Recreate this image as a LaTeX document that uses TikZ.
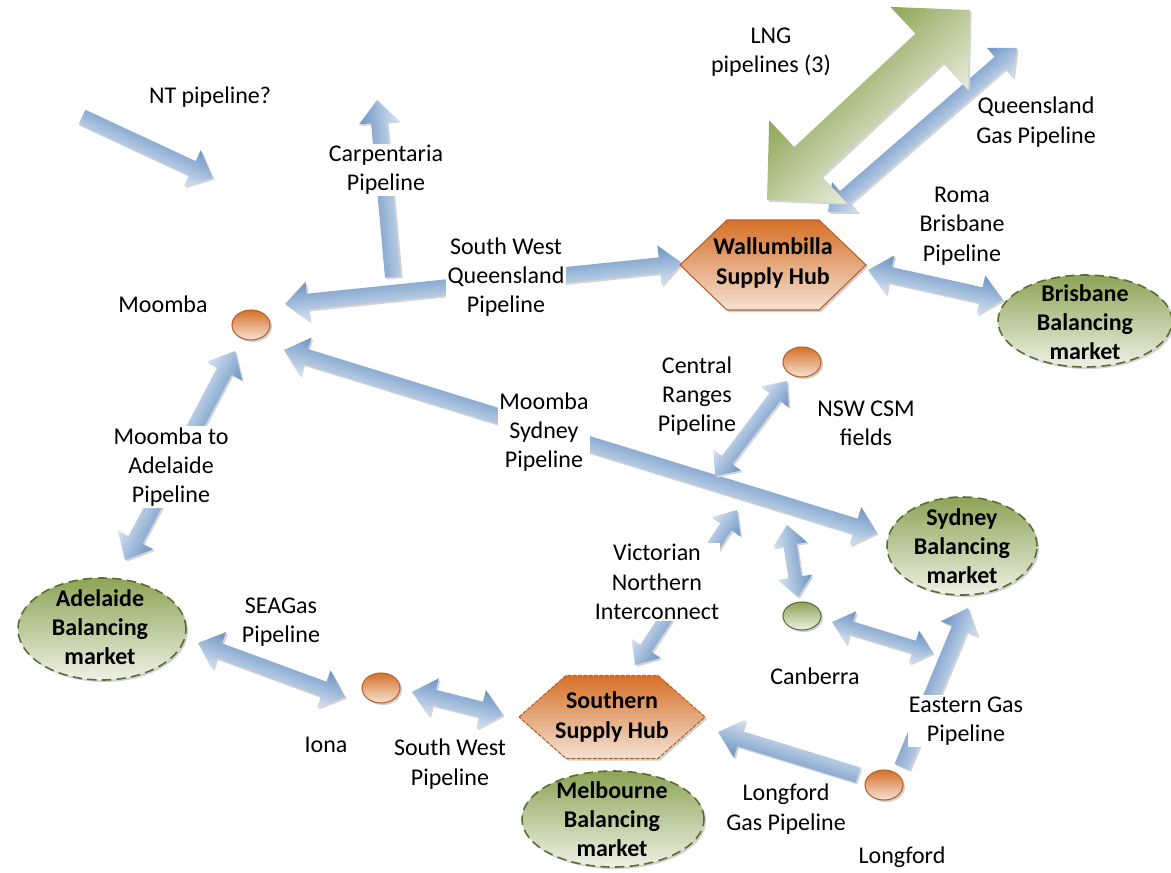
\documentclass[tikz,border=0pt]{standalone}
\usepackage{fontspec}
\setmainfont{Carlito}
\usetikzlibrary{arrows.meta,shapes.geometric,shadows,calc}
\definecolor{pipedark}{RGB}{108,148,196}
\definecolor{pipelight}{RGB}{214,227,241}
\definecolor{pipeshadow}{RGB}{212,212,212}
\definecolor{lngdark}{RGB}{140,166,86}
\definecolor{lnglight}{RGB}{233,237,220}
\definecolor{hubtop}{RGB}{214,112,40}
\definecolor{hubbot}{RGB}{244,226,212}
\definecolor{hubedge}{RGB}{185,95,40}
\definecolor{grtop}{RGB}{140,164,86}
\definecolor{grbot}{RGB}{238,241,229}
\definecolor{gredge}{RGB}{94,108,52}
% block arrow geometry (head length, half head width, half shaft width)
\newcommand\setnormal{\gdef\HL{17pt}\gdef\HW{15pt}\gdef\SW{6pt}}
\newcommand\setsmall{\gdef\HL{15pt}\gdef\HW{13pt}\gdef\SW{5pt}}
\newcommand\setbig{\gdef\HL{42pt}\gdef\HW{42.5pt}\gdef\SW{15pt}}
\setnormal
\newcommand\getvec[2]{%
  \path let \p1=($(#2)-(#1)$) in \pgfextra{%
    \pgfmathsetmacro\tmpang{atan2(\y1,\x1)}\global\let\Bang\tmpang
    \pgfmathsetmacro\tmplen{veclen(\x1,\y1)}\global\let\Blen\tmplen};}
\newcommand\dpoly{(0pt,0pt) -- (\HL,\HW) -- (\HL,\SW) -- (\Blen pt-\HL,\SW) -- (\Blen pt-\HL,\HW) -- (\Blen pt,0pt) -- (\Blen pt-\HL,-\HW) -- (\Blen pt-\HL,-\SW) -- (\HL,-\SW) -- (\HL,-\HW) -- cycle}
\newcommand\spoly{(0pt,\SW) -- (\Blen pt-\HL,\SW) -- (\Blen pt-\HL,\HW) -- (\Blen pt,0pt) -- (\Blen pt-\HL,-\HW) -- (\Blen pt-\HL,-\SW) -- (0pt,-\SW) -- cycle}
% \pipeline{style}{poly}{from}{to}
\newcommand\pipeline[4]{%
  \getvec{#3}{#4}%
  \begin{scope}[transform canvas={shift={(#3)}, xshift=1.3pt, yshift=-1.3pt, rotate=\Bang}]
    \fill[pipeshadow] #2;
  \end{scope}
  \begin{scope}[transform canvas={shift={(#3)}, rotate=\Bang}]
    \path[#1] #2;
  \end{scope}}
\begin{document}
\begin{tikzpicture}[x=0.75pt,y=-0.75pt,
  txt/.style={align=center, inner sep=1pt, font=\fontsize{18}{22}\selectfont},
  txtw/.style={txt, fill=white},
  btxt/.style={align=center, inner sep=1pt, font=\fontsize{18}{22}\selectfont\bfseries},
  pipe/.style={top color=pipedark, bottom color=pipelight},
  lng/.style={top color=lngdark, bottom color=lnglight},
  shad/.style={drop shadow={shadow xshift=1.5pt, shadow yshift=-1.5pt, fill=black, opacity=0.18}},
  dot/.style={ellipse, draw=hubedge, line width=0.8pt, top color=hubtop, bottom color=hubbot,
    minimum width=28.5pt, minimum height=22.5pt, inner sep=0pt, shad},
  gdot/.style={ellipse, draw=gredge, line width=0.8pt, top color=grtop, bottom color=grbot,
    minimum width=28.5pt, minimum height=21pt, inner sep=0pt, shad},
  market/.style={ellipse, draw=gredge, dash pattern=on 7pt off 4pt, line width=1.2pt,
    top color=grtop, bottom color=grbot, inner sep=0pt, shad},
  hub/.style={draw=hubedge, line width=0.8pt, top color=hubtop, bottom color=hubbot, shad}
]
\useasboundingbox (0,0) rectangle (1171,872);

% arrow end points
\coordinate (ntA) at (82,117);   \coordinate (ntB) at (213,178);
\coordinate (cpA) at (393,277);  \coordinate (cpB) at (377,100);
\coordinate (swqA) at (285,304); \coordinate (swqB) at (682,263);
\coordinate (mspA) at (284,350); \coordinate (mspB) at (877,533);
\coordinate (maA) at (235,351);  \coordinate (maB) at (125,560);
\coordinate (seaA) at (198,643); \coordinate (seaB) at (345,697);
\coordinate (swpA) at (412,692); \coordinate (swpB) at (503,715);
\coordinate (rbpA) at (868,270); \coordinate (rbpB) at (1003,300);
\coordinate (qgpA) at (828,212); \coordinate (qgpB) at (1017,48);
\coordinate (lngA) at (767,200); \coordinate (lngB) at (970,10);
\coordinate (crpA) at (787,381); \coordinate (crpB) at (715,476);
\coordinate (vniA) at (737,510); \coordinate (vniB) at (635,665);
\coordinate (cbvA) at (787,525); \coordinate (cbvB) at (798,597);
\coordinate (cbeA) at (832,622); \coordinate (cbeB) at (933,653);
\coordinate (egpA) at (902,767); \coordinate (egpB) at (968,608);
\coordinate (lgpA) at (858,775); \coordinate (lgpB) at (718,732);

% pipelines
\setnormal
\pipeline{pipe}{\spoly}{ntA}{ntB}
\pipeline{pipe}{\spoly}{cpA}{cpB}
\pipeline{pipe}{\dpoly}{swqA}{swqB}
\pipeline{pipe}{\dpoly}{mspA}{mspB}
\pipeline{pipe}{\dpoly}{maA}{maB}
\pipeline{pipe}{\dpoly}{seaA}{seaB}
\pipeline{pipe}{\dpoly}{swpA}{swpB}
\pipeline{pipe}{\dpoly}{rbpA}{rbpB}
\pipeline{pipe}{\dpoly}{qgpA}{qgpB}
\pipeline{pipe}{\spoly}{egpA}{egpB}
\pipeline{pipe}{\spoly}{lgpA}{lgpB}
\setsmall
\pipeline{pipe}{\dpoly}{crpA}{crpB}
\pipeline{pipe}{\dpoly}{vniA}{vniB}
\pipeline{pipe}{\dpoly}{cbvA}{cbvB}
\pipeline{pipe}{\dpoly}{cbeA}{cbeB}
\setbig
\pipeline{lng}{\dpoly}{lngA}{lngB}

% hubs
\coordinate (walC) at (773,265);
\path[hub] ($(walC)+(-93,0)$) -- ($(walC)+(-46,-45)$) -- ($(walC)+(46,-45)$) -- ($(walC)+(93,0)$) -- ($(walC)+(46,45)$) -- ($(walC)+(-46,45)$) -- cycle;
\node[btxt] (wal) at (773,263) {Wallumbilla\\Supply Hub};
\coordinate (souC) at (612,717);
\path[hub, dash pattern=on 3pt off 1pt] ($(souC)+(-93,0)$) -- ($(souC)+(-46,-41.5)$) -- ($(souC)+(46,-41.5)$) -- ($(souC)+(93,0)$) -- ($(souC)+(46,41.5)$) -- ($(souC)+(-46,41.5)$) -- cycle;
\node[btxt] (sou) at (612,717) {Southern\\Supply Hub};

% markets
\node[market, minimum width=130.5pt, minimum height=69pt] (bris) at (1085,321) {};
\node[btxt] (brisT) at (1085,322) {Brisbane\\Balancing\\market};
\node[market, minimum width=112.5pt, minimum height=73.5pt] (syd) at (962,546) {};
\node[btxt] (sydT) at (962,546) {Sydney\\Balancing\\market};
\node[market, minimum width=126pt, minimum height=76.5pt] (adl) at (102,629) {};
\node[btxt] (adlT) at (100,627) {Adelaide\\Balancing\\market};
\node[market, minimum width=136.5pt, minimum height=72pt] (mel) at (613,819) {};
\node[btxt] (melT) at (612,819) {Melbourne\\Balancing\\market};

% gas fields / towns
\node[dot] (moomba) at (251,325) {};
\node[dot] (csm) at (802,362) {};
\node[gdot] (canb) at (802,616) {};
\node[dot] (iona) at (381,688) {};
\node[dot] (longf) at (884,785) {};

% labels
\node[txt] (ntL) at (210,97) {NT pipeline?};
\node[txtw] (cpL) at (386,170) {Carpentaria\\Pipeline};
\node[txt] (moL) at (163,304) {Moomba};
\node[txtw] (swqL) at (506,277) {South West\\Queensland\\Pipeline};
\node[txt] (lngL) at (771,52) {LNG\\pipelines (3)};
\node[txt] (qgpL) at (1036,122) {Queensland\\Gas Pipeline};
\node[txt] (rbpL) at (962,226) {Roma\\Brisbane\\Pipeline};
\node[txt] (crpL) at (697,396) {Central\\Ranges\\Pipeline};
\node[txt] (csmL) at (866,423) {NSW CSM\\fields};
\node[txtw] (mspL) at (544,432) {Moomba\\Sydney\\Pipeline};
\node[txtw] (maL) at (171,467) {Moomba to\\Adelaide\\Pipeline};
\node[txtw] (vniL) at (657,582) {Victorian\\Northern\\Interconnect};
\node[txt] (seaL) at (281,622) {SEAGas\\Pipeline};
\node[txt] (cbL) at (815,676) {Canberra};
\node[txt] (ioL) at (326,745) {Iona};
\node[txt] (swpL) at (450,764) {South West\\Pipeline};
\node[txtw] (egpL) at (966,721) {Eastern Gas\\Pipeline};
\node[txt] (lgpL) at (786,809) {Longford\\Gas Pipeline};
\node[txt] (lfL) at (902,857) {Longford};
\end{tikzpicture}
\end{document}
